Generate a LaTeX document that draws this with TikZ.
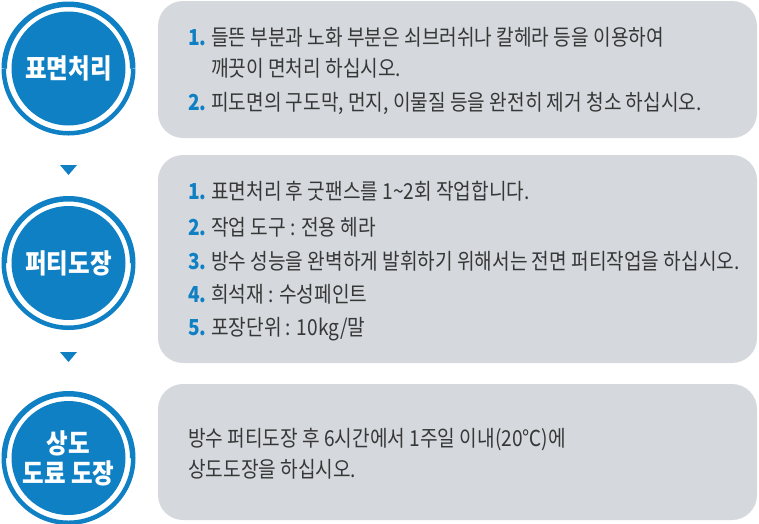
\documentclass[tikz,border=0pt]{standalone}
\usepackage{fontspec}
\setmainfont{Noto Sans CJK KR}[FakeStretch=0.87]
\usetikzlibrary{calc}
\definecolor{ptblue}{RGB}{16,128,197}
\definecolor{boxgray}{RGB}{213,217,221}
\definecolor{txtgray}{RGB}{55,55,55}
\newcommand{\stepnum}[1]{\makebox[23pt][l]{\color{ptblue}\bfseries #1.}}

\begin{document}
\begin{tikzpicture}[
    x=1pt, y=-1pt,
    disc/.style={circle,fill=ptblue,minimum size=114pt,inner sep=0pt,text=white,
      font=\fontsize{27}{30}\selectfont\bfseries,align=center},
    ring/.style={draw=ptblue,line width=#1},
    panel/.style={rounded corners=25pt,fill=boxgray,minimum width=599pt,inner sep=0pt},
    item/.style={anchor=base west,inner sep=0pt,text=txtgray,font=\fontsize{22}{26}\selectfont},
    marker/.style={fill=ptblue}
  ]
  \useasboundingbox (0,0) rectangle (759,523);

  % Panels
  \node[panel,minimum height=137pt] (surfbox) at (457.5,69.5) {};
  \node[panel,minimum height=208pt] (puttybox) at (457.5,259) {};
  \node[panel,minimum height=136pt] (coatbox) at (457.5,452) {};

  % Step discs
  \node[disc] (surf) at (68.5,68.5) {표면처리};
  \node[disc] (putty) at (68.5,263) {퍼티도장};
  \node[disc] (coat) at (68.5,458) {상도\\도료 도장};

  % Outer rings, upper and lower halves
  \draw[ring=5.5] ($(surf.center)+(-64.25,0)$) arc[start angle=180,end angle=360,radius=64.25];
  \draw[ring=4.5] ($(surf.center)+(64.75,0)$) arc[start angle=0,end angle=180,radius=64.75];
  \draw[ring=5.5] ($(putty.center)+(-64.25,0)$) arc[start angle=180,end angle=360,radius=64.25];
  \draw[ring=4.5] ($(putty.center)+(64.75,0)$) arc[start angle=0,end angle=180,radius=64.75];
  \draw[ring=5.5] ($(coat.center)+(-64.25,0)$) arc[start angle=180,end angle=360,radius=64.25];
  \draw[ring=4.5] ($(coat.center)+(64.75,0)$) arc[start angle=0,end angle=180,radius=64.75];

  % Down markers
  \coordinate (m1) at (68.5,165);
  \coordinate (m2) at (68.5,352);
  \fill[marker] ([xshift=-8.5pt]m1) -- ([xshift=8.5pt]m1) -- ([yshift=-10pt]m1) -- cycle;
  \fill[marker] ([xshift=-8.5pt]m2) -- ([xshift=8.5pt]m2) -- ([yshift=-10pt]m2) -- cycle;

  % Surface treatment
  \node[item] (s1) at (188,45) {\stepnum{1}들뜬 부분과 노화 부분은 쇠브러쉬나 칼헤라 등을 이용하여};
  \node[item] (s1b) at (211,76) {깨끗이 면처리 하십시오.};
  \node[item] (s2) at (188,110) {\stepnum{2}피도면의 구도막, 먼지, 이물질 등을 완전히 제거 청소 하십시오.};

  % Putty coating
  \node[item] (p1) at (188,199) {\stepnum{1}표면처리 후 굿팬스를 1\textasciitilde2회 작업합니다.};
  \node[item] (p2) at (188,235) {\stepnum{2}작업 도구 : 전용 헤라};
  \node[item] (p3) at (188,269) {\stepnum{3}방수 성능을 완벽하게 발휘하기 위해서는 전면 퍼티작업을 하십시오.};
  \node[item] (p4) at (188,302) {\stepnum{4}희석재 : 수성페인트};
  \node[item] (p5) at (188,335) {\stepnum{5}포장단위 : 10kg/말};

  % Top coat
  \node[item] (c1) at (188,446) {방수 퍼티도장 후 6시간에서 1주일 이내(20℃)에};
  \node[item] (c2) at (188,477) {상도도장을 하십시오.};
\end{tikzpicture}
\end{document}
